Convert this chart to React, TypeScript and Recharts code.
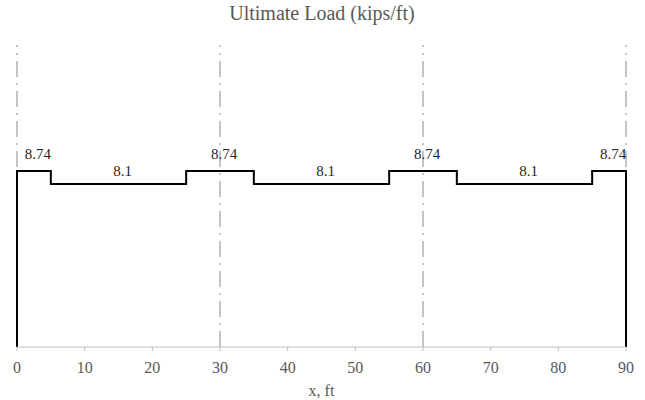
import React from "react";
import { XAxis, YAxis, ReferenceLine, Scatter, ComposedChart, Line, Label } from "recharts";

const stepX = [0, 0, 5, 5, 25, 25, 35, 35, 55, 55, 65, 65, 85, 85, 90, 90];
const stepY = [0, 8.74, 8.74, 8.1, 8.1, 8.74, 8.74, 8.1, 8.1, 8.74, 8.74, 8.1, 8.1, 8.74, 8.74, 0];
const labelX = [2.5, 15, 30, 45, 60, 75, 87.5];
const labelY = [8.74, 8.1, 8.74, 8.1, 8.74, 8.1, 8.74];
const supportX = [0, 30, 60, 90];
const xTicks = [0, 10, 20, 30, 40, 50, 60, 70, 80, 90];

const stepData = stepX.map((x, i) => ({ x, load: stepY[i] }));
const labelData = labelX.map((x, i) => ({ x, lbl: labelY[i] }));

const FONT = "Liberation Serif";

const LabelShape = (props: any) => {
  const { cx, cy, payload } = props;
  const off = payload.lbl > 8.5 ? 12 : 8;
  return (
    <text x={cx + 4} y={cy - off} textAnchor="middle" style={{ fontFamily: FONT, fontSize: 15 }} fill="#262626">
      {String(payload.lbl)}
    </text>
  );
};

const TickShape = (props: any) => {
  const { x, y, payload } = props;
  return (
    <text x={x} y={y + 22} textAnchor="middle" style={{ fontFamily: FONT, fontSize: 16 }} fill="#595959">
      {payload.value}
    </text>
  );
};

export default function App() {
  return (
    <div style={{ position: "absolute", left: 0, top: 0, width: 645, height: 400, background: "#fff", fontFamily: FONT }}>
      <ComposedChart width={645} height={400} margin={{ top: 45, right: 19, left: 17, bottom: 0 }} style={{ fontFamily: FONT }}>
        <text x={322} y={20} textAnchor="middle" style={{ fontFamily: FONT, fontSize: 20 }} fill="#595959">
          Ultimate Load (kips/ft)
        </text>
        <XAxis
          type="number"
          dataKey="x"
          domain={[0, 90]}
          ticks={xTicks}
          height={53}
          stroke="#bfbfbf"
          tickSize={4}
          tick={<TickShape />}
          tickMargin={0}
        >
          <Label value="x, ft" position="insideBottom" offset={4} fill="#595959" style={{ fontFamily: FONT, fontSize: 16 }} />
        </XAxis>
        <YAxis type="number" domain={[0, 15]} hide width={0} />
        {supportX.map((sx) => (
          <ReferenceLine key={sx} x={sx} stroke="#a6a6a6" strokeWidth={1.3} strokeDasharray="16 6 2 6" />
        ))}
        <Line
          data={stepData}
          dataKey="load"
          type="linear"
          stroke="#000"
          strokeWidth={2}
          dot={false}
          isAnimationActive={false}
        />
        <Scatter data={labelData} dataKey="lbl" shape={LabelShape} isAnimationActive={false} />
      </ComposedChart>
    </div>
  );
}
